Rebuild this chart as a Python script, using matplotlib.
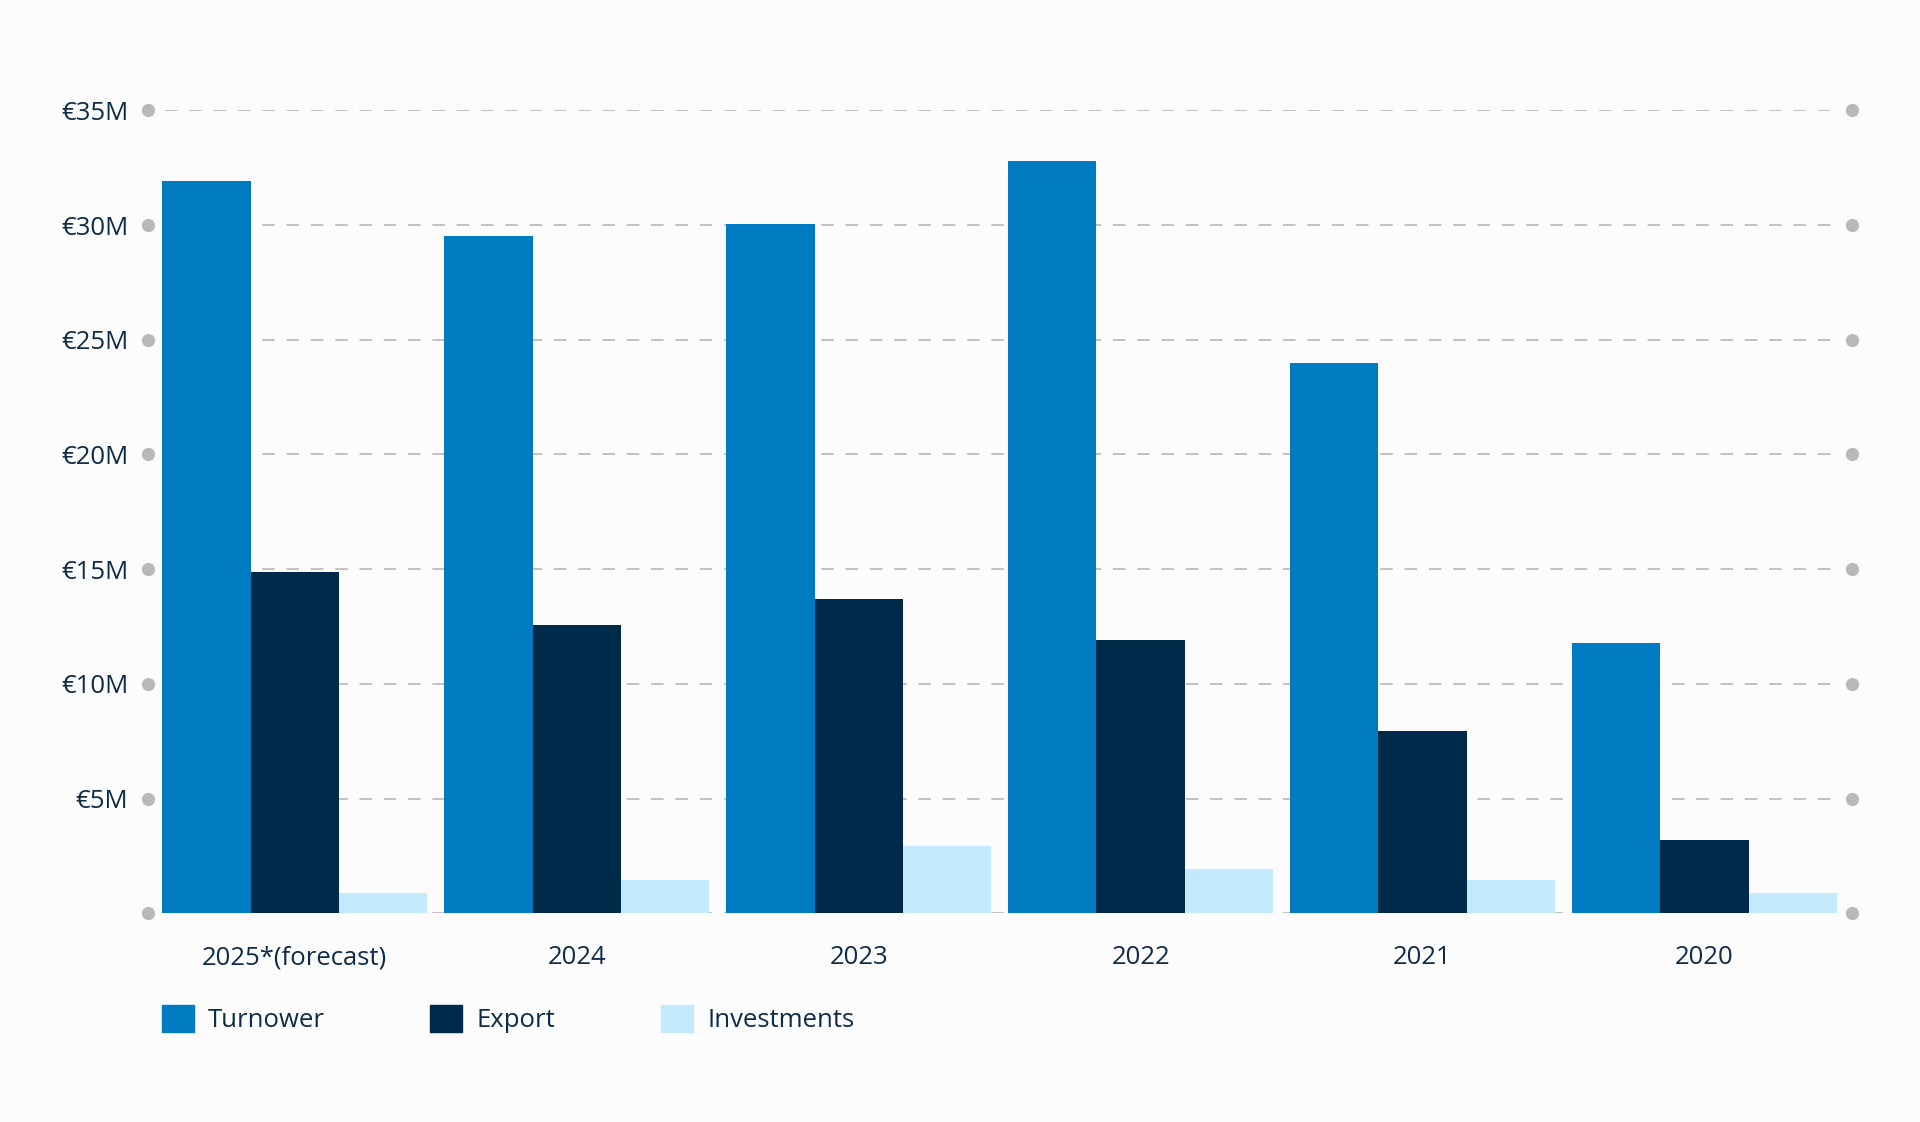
import matplotlib
matplotlib.use("Agg")
import matplotlib.pyplot as plt
from matplotlib.patches import Patch
import numpy as np

# data (millions of euro)
years = ["2025*(forecast)", "2024", "2023", "2022", "2021", "2020"]
turnover = [31.9, 29.5, 30.05, 32.8, 24.0, 11.8]
export = [14.9, 12.55, 13.7, 11.9, 7.95, 3.2]
investments = [0.9, 1.45, 2.95, 1.95, 1.45, 0.9]
yticks = [0, 5, 10, 15, 20, 25, 30, 35]
ylabels = ["", "€5M", "€10M", "€15M", "€20M", "€25M", "€30M", "€35M"]

c_turn = "#007bc2"
c_exp = "#002a4a"
c_inv = "#c3e9fc"
txt = "#0e2b49"
bg = "#fcfcfc"
fs = 18.5

plt.rcParams["font.family"] = ["Open Sans", "DejaVu Sans"]

fig = plt.figure(figsize=(19.2, 11.22), dpi=100, facecolor=bg)
ax = fig.add_axes([0.0769, 0.1859, 0.8875, 0.7158])
ax.set_facecolor(bg)

x = np.arange(len(years))
w = 0.313
ax.bar(x - w, turnover, w, color=c_turn, zorder=3, label="Turnower")
ax.bar(x, export, w, color=c_exp, zorder=3, label="Export")
ax.bar(x + w, investments, w, color=c_inv, zorder=3, label="Investments")

xmin, xmax = -0.522, 5.522
ax.set_xlim(xmin, xmax)
ax.set_ylim(0, 35)

# dashed gridlines with dots at both ends
lw = 1.3
ax.hlines(yticks, xmin + 0.06, xmax - 0.06, colors="#bcbcbc", linewidth=lw,
          linestyles=(0, (9 / lw, 8.5 / lw)), zorder=1)
ax.plot([xmin] * len(yticks), yticks, "o", color="#b9b9b9", markersize=8.5,
        clip_on=False, zorder=4)
ax.plot([xmax] * len(yticks), yticks, "o", color="#b9b9b9", markersize=8.5,
        clip_on=False, zorder=4)

ax.set_yticks(yticks, ylabels)
ax.set_xticks(x, years)
ax.tick_params(axis="y", length=0, pad=14, labelsize=fs, labelcolor=txt)
ax.tick_params(axis="x", length=0, pad=23, labelsize=fs, labelcolor=txt)
for s in ax.spines.values():
    s.set_visible(False)

handles = [Patch(color=c_turn), Patch(color=c_exp), Patch(color=c_inv)]
fig.legend(handles, ["Turnower", "Export", "Investments"], loc="center left",
           bbox_to_anchor=(0.0842, 0.0918), ncol=3, frameon=False,
           fontsize=fs, labelcolor=txt, handlelength=1.245, handleheight=1.245,
           handletextpad=0.56, columnspacing=4.1, borderpad=0, borderaxespad=0)

fig.savefig("out.png", dpi=100, facecolor=bg)
